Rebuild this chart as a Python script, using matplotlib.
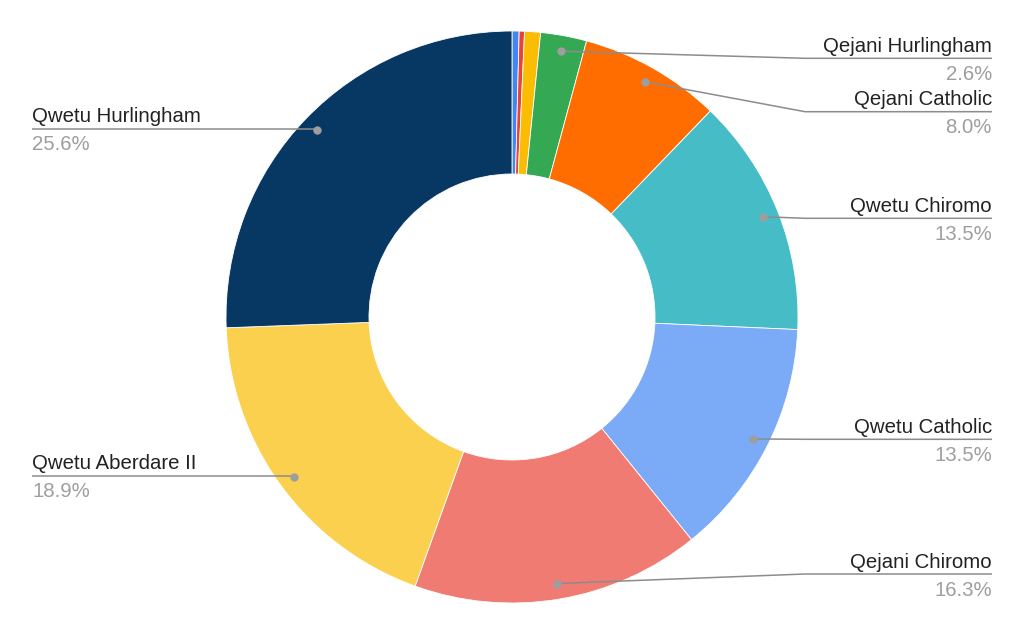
import matplotlib
matplotlib.use("Agg")
import matplotlib.pyplot as plt
import numpy as np

labels = ["(blue)", "(red)", "(yellow)", "Qejani Hurlingham", "Qejani Catholic",
          "Qwetu Chiromo", "Qwetu Catholic", "Qejani Chiromo", "Qwetu Aberdare II",
          "Qwetu Hurlingham"]
values = [0.4, 0.3, 0.9, 2.6, 8.0, 13.5, 13.5, 16.3, 18.9, 25.6]
colors = ["#4285F4", "#EA4335", "#FBBC04", "#34A853", "#FF6D01",
          "#46BDC6", "#7BAAF7", "#F07B72", "#FCD04F", "#073763"]
show_label = [False, False, False, True, True, True, True, True, True, True]

# label layout (screen pixels, y from top): line y, side
label_line_y = {3: 58.3, 4: 111.7, 5: 218.3, 6: 439.3, 7: 574.0, 8: 475.7, 9: 128.8}
label_side = {3: "r", 4: "r", 5: "r", 6: "r", 7: "r", 8: "l", 9: "l"}

W, H = 1024, 633
fig = plt.figure(figsize=(W / 100, H / 100), dpi=100)
ax = fig.add_axes([0, 0, 1, 1])
ax.set_xlim(0, W)
ax.set_ylim(0, H)
ax.set_aspect("equal")
ax.axis("off")

def Y(y):
    return H - y

cx, cy, R = 512, 317, 286
ax.pie(values, colors=colors, center=(cx, Y(cy)), radius=R, startangle=90,
       counterclock=False, wedgeprops=dict(width=R * 0.5, edgecolor="white", linewidth=0.6))
ax.set_xlim(0, W)
ax.set_ylim(0, H)

total = sum(values)
cum = np.cumsum([0] + values[:-1])
font = "Liberation Sans"
fs = 14.7
for i, v in enumerate(values):
    if not show_label[i]:
        continue
    mid = (cum[i] + v / 2) / total * 2 * np.pi
    r = 0.945 * R
    dx, dy = cx + r * np.sin(mid), cy - r * np.cos(mid)
    ly = label_line_y[i]
    if label_side[i] == "r":
        elbow = max(805, dx)
        xs = [dx, elbow, 992]
        ys = [dy, ly, ly]
        tx, ha = 992, "right"
    else:
        xs = [dx, dx, 32]
        ys = [dy, ly, ly]
        tx, ha = 32, "left"
    ax.plot(xs, [Y(y) for y in ys], color="#8c8c8c", lw=1.1, solid_capstyle="butt", zorder=5)
    ax.plot([dx], [Y(dy)], "o", color="#9e9e9e", ms=6, mec="none", zorder=6)
    ax.text(tx, Y(ly - 6.5), labels[i], ha=ha, va="baseline", fontsize=fs,
            color="#222222", family=font)
    ax.text(tx, Y(ly + 21.5), f"{v:.1f}%", ha=ha, va="baseline", fontsize=fs,
            color="#9e9e9e", family=font)

fig.savefig("out.png", dpi=100, facecolor="white")
